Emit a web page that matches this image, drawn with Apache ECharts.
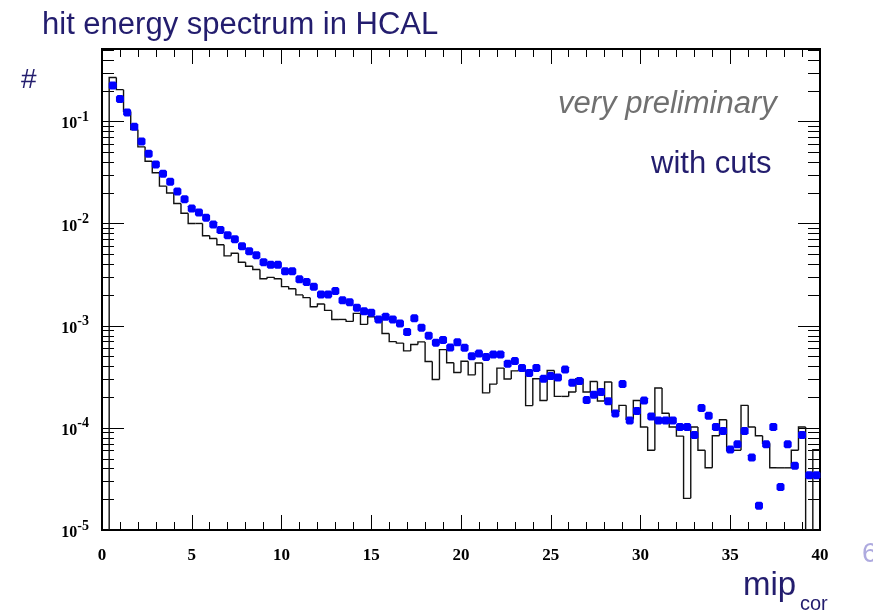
<!DOCTYPE html>
<html><head><meta charset="utf-8">
<script src="https://cdn.jsdelivr.net/npm/echarts@6/dist/echarts.min.js"></script>
<style>html,body{margin:0;padding:0;background:#fff;overflow:hidden}#c{width:873px;height:611px}</style>
</head><body><div id="c"></div>
<script>
// histogram binning: 100 bins of width 0.4 from 0 to 40 (mip_cor)
const binWidth = 0.4;
const nBins = 100;

// black histogram (bin contents, bin 0 .. 99)
const histValues = [
  0, 0.268, 0.204, 0.125, 0.083, 0.0562, 0.0407, 0.0314, 0.0232, 0.0199,
  0.0157, 0.0126, 0.0100, 0.0100, 0.00759, 0.00713, 0.00620, 0.00482, 0.00512, 0.00418,
  0.00382, 0.00355, 0.00288, 0.00297, 0.00288, 0.00241, 0.00230, 0.00200, 0.00188, 0.00153,
  0.00163, 0.00141, 0.00115, 0.00115, 0.00110, 0.00132, 0.00103, 0.00122, 0.00117, 0.000839,
  0.000698, 0.000675, 0.000566, 0.000653, 0.000693, 0.000446, 0.000297, 0.000583, 0.000433, 0.000348,
  0.000448, 0.000330, 0.000431, 0.000220, 0.000268, 0.000384, 0.000300, 0.000361, 0.000364, 0.000165,
  0.000302, 0.000185, 0.000364, 0.000203, 0.000203, 0.000224, 0.000302, 0.000224, 0.000284, 0.000183,
  0.000281, 0.000143, 0.000166, 0.000121, 0.000185, 0.000102, 0.0000603, 0.000245, 0.000139, 0.000102,
  0.0000830, 0.0000204, 0.000102, 0.0000603, 0.0000406, 0.0000836, 0.000120, 0.0000603, 0.0000603, 0.000166,
  0.000102, 0.0000836, 0.0000706, 0.0000406, 0.0000406, 0.0000406, 0.0000603, 0.000102, 0, 0.0000612
];

// blue markers (bin 0 .. 99)
const pointValues = [
  null, 0.224, 0.165, 0.122, 0.0882, 0.0634, 0.0481, 0.0378, 0.0307, 0.0256,
  0.0206, 0.0173, 0.0140, 0.0128, 0.0114, 0.00975, 0.00865, 0.00767, 0.00701, 0.00600,
  0.00536, 0.00490, 0.00418, 0.00394, 0.00394, 0.00340, 0.00340, 0.00284, 0.00267, 0.00240,
  0.00202, 0.00202, 0.00218, 0.00177, 0.00169, 0.00150, 0.00138, 0.00134, 0.00115, 0.00122,
  0.00115, 0.00105, 0.000869, 0.00118, 0.000955, 0.000798, 0.000682, 0.000725, 0.000610, 0.000686,
  0.000606, 0.000502, 0.000533, 0.000492, 0.000521, 0.000521, 0.000423, 0.000450, 0.000386, 0.000344,
  0.000386, 0.000302, 0.000321, 0.000311, 0.000372, 0.000276, 0.000287, 0.000187, 0.000211, 0.000224,
  0.000182, 0.000138, 0.000268, 0.000118, 0.000146, 0.000185, 0.000129, 0.000118, 0.000118, 0.000118,
  0.000102, 0.000102, 0.0000853, 0.000156, 0.000131, 0.000102, 0.0000933, 0.0000612, 0.0000690, 0.0000933,
  0.0000512, 0.0000173, 0.0000690, 0.000102, 0.0000263, 0.0000690, 0.0000425, 0.0000853, 0.0000344, 0.0000344
];

const xTickLabels = ['0','5','10','15','20','25','30','35','40'];
const yMin = 1e-5, yMax = 0.51;

// build series data from the arrays
const histData = [];
const pointData = [];
for (let i = 0; i < nBins; i++) {
  const x0 = i * binWidth, x1 = (i + 1) * binWidth;
  histData.push([x0, x1, histValues[i], i > 0 ? histValues[i - 1] : 0]);
  if (pointValues[i] != null) pointData.push([x0 + binWidth / 2, pointValues[i]]);
}
// y ticks (log decades with 2..9 minor ticks)
const yTicks = [];
for (let e = -5; e <= 0; e++) {
  for (let m = 1; m <= 9; m++) {
    const v = m * Math.pow(10, e);
    if (v >= yMin * 0.999 && v <= yMax) yTicks.push([0, v, m === 1 ? 1 : 0]);
  }
}

const chart = echarts.init(document.getElementById('c'), null, {renderer: 'canvas'});
const navy = '#231d6e';
const serif = 'Liberation Serif';

chart.setOption({
  animation: false,
  backgroundColor: '#fff',
  grid: {left: 102, right: 53, top: 49, bottom: 81, show: true, borderColor: '#000', borderWidth: 2, backgroundColor: 'transparent'},
  xAxis: [{
    type: 'value', min: 0, max: 40, interval: 5, position: 'bottom',
    axisLine: {show: true, lineStyle: {color: '#000', width: 2}},
    axisTick: {show: true, inside: true, length: 15, lineStyle: {color: '#000', width: 1}},
    minorTick: {show: true, splitNumber: 5, length: 8, lineStyle: {color: '#000', width: 1}},
    splitLine: {show: false},
    axisLabel: {
      margin: 17, color: '#000', fontFamily: serif, fontWeight: 'bold', fontSize: 17,
      formatter: v => xTickLabels[Math.round(v / 5)] ?? ''
    }
  }, {
    type: 'value', min: 0, max: 40, interval: 5, position: 'top',
    axisLine: {show: true, lineStyle: {color: '#000', width: 2}},
    axisTick: {show: true, inside: true, length: 15, lineStyle: {color: '#000', width: 1}},
    minorTick: {show: true, splitNumber: 5, length: 8, lineStyle: {color: '#000', width: 1}},
    splitLine: {show: false},
    axisLabel: {show: false}
  }],
  yAxis: {
    type: 'log', logBase: 10, min: yMin, max: yMax,
    axisLine: {show: true, lineStyle: {color: '#000', width: 2}},
    axisTick: {show: false},
    minorTick: {show: false},
    splitLine: {show: false},
    axisLabel: {
      margin: 13, color: '#000',
      formatter: v => {
        const e = Math.log10(v);
        if (Math.abs(e - Math.round(e)) > 1e-6) return '';
        return '{b|10}{s|' + Math.round(e) + '}';
      },
      rich: {
        b: {fontFamily: serif, fontWeight: 'bold', fontSize: 16, color: '#000', padding: [6, 0, 0, 0]},
        s: {fontFamily: serif, fontWeight: 'bold', fontSize: 14, color: '#000', padding: [0, 0, 8, 0]}
      }
    }
  },
  series: [
    {
      type: 'custom', name: 'ticks', xAxisIndex: 0, yAxisIndex: 0, silent: true, clip: false,
      data: yTicks,
      encode: {x: 0, y: 1},
      renderItem: (params, api) => {
        const cs = params.coordSys;
        const y = Math.round(api.coord([0, api.value(1)])[1]) + 0.5;
        const len = api.value(2) ? 22 : 12;
        return {type: 'group', children: [
          {type: 'line', shape: {x1: cs.x, y1: y, x2: cs.x + len, y2: y}, style: {stroke: '#000', lineWidth: 1}},
          {type: 'line', shape: {x1: cs.x + cs.width, y1: y, x2: cs.x + cs.width - len, y2: y}, style: {stroke: '#000', lineWidth: 1}}
        ]};
      }
    },
    {
      type: 'custom', name: 'MC', xAxisIndex: 0, yAxisIndex: 0, silent: true, clip: true,
      data: histData,
      dimensions: ['x0', 'x1', 'v', 'vp'],
      encode: {x: [0, 1], y: 2},
      renderItem: (params, api) => {
        const cs = params.coordSys;
        const yb = cs.y + cs.height;
        const x0 = api.value(0), x1 = api.value(1), v = api.value(2), vp = api.value(3);
        const yOf = val => val > 0 ? api.coord([x0, val])[1] : yb;
        const px0 = api.coord([x0, 1e-3])[0], px1 = api.coord([x1, 1e-3])[0];
        const y = yOf(v), yp = yOf(vp);
        if (!(v > 0) && !(vp > 0)) return null;
        return {type: 'polyline', shape: {points: [[px0, yp], [px0, y], [px1, y]]},
          style: {stroke: '#111', lineWidth: 1.4, fill: null}};
      }
    },
    {
      type: 'scatter', name: 'data', xAxisIndex: 0, yAxisIndex: 0,
      data: pointData,
      symbol: 'path://M2,0 L8,0 L10,2 L10,8 L8,10 L2,10 L0,8 L0,2 Z',
      symbolSize: 8,
      itemStyle: {color: '#0000ff', opacity: 1}
    }
  ],
  graphic: [
    {type: 'text', left: 42, top: 10, style: {text: 'hit energy spectrum in HCAL', font: '31px "Liberation Sans"', fill: navy}},
    {type: 'text', left: 21, top: 66, style: {text: '#', font: '28px "Liberation Sans"', fill: navy}},
    {type: 'text', left: 558, top: 89, style: {text: 'very preliminary', font: 'italic 31px "Liberation Sans"', fill: '#707070'}},
    {type: 'text', left: 651, top: 149, style: {text: 'with cuts', font: '31px "Liberation Sans"', fill: navy}},
    {type: 'text', left: 743, top: 569, style: {text: 'mip', font: '33px "Liberation Sans"', fill: navy}},
    {type: 'text', left: 800, top: 594, style: {text: 'cor', font: '20px "Liberation Sans"', fill: navy}},
    {type: 'text', left: 862, top: 540, style: {text: '6', font: '28px "Liberation Sans"', fill: '#aeaadf'}}
  ]
});
</script>
</body></html>
